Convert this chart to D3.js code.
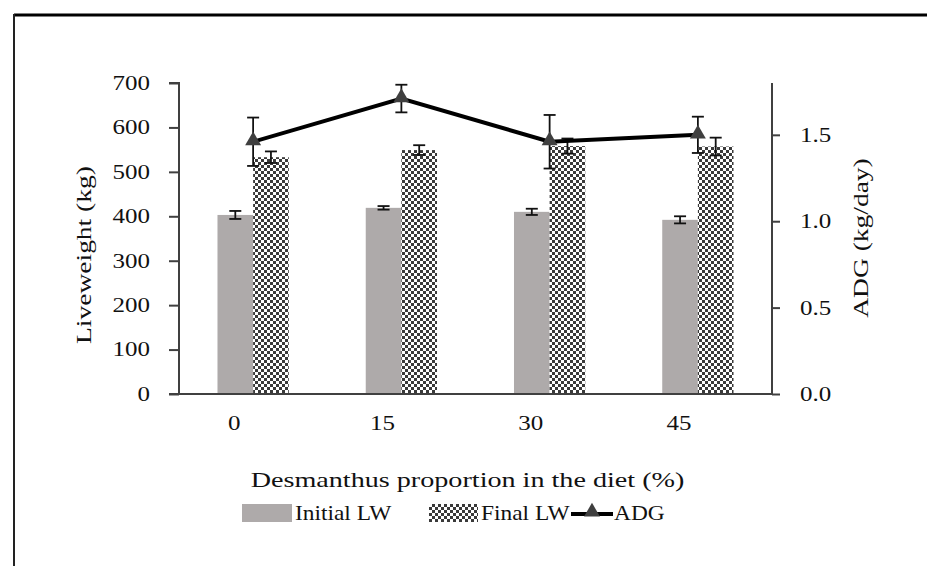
<!DOCTYPE html>
<html>
<head>
<meta charset="utf-8">
<script src="https://cdn.jsdelivr.net/npm/d3@7"></script>
<style>
  body { margin: 0; background: #fff; }
  svg text { font-family: "Liberation Serif", serif; fill: #111; }
</style>
</head>
<body>
<svg id="chart" width="927" height="566"></svg>
<script>
// data
const categories = ["0", "15", "30", "45"];
const initialLW = [403, 419, 410, 392];
const initialErr = [9, 4, 7, 8];
const finalLW = [533, 549, 558, 557];
const finalErr = [13, 11, 17, 20];
const adg = [1.46, 1.71, 1.46, 1.50];
const adgErr = [0.14, 0.08, 0.155, 0.105];
const leftTicks = [0, 100, 200, 300, 400, 500, 600, 700];
const rightTicks = [0, 0.5, 1.0, 1.5];

const svg = d3.select("#chart");
const margin = {left: 179, right: 155, top: 83, bottom: 172};
const W = 927, H = 566;
const plotRight = W - margin.right, plotBottom = H - margin.bottom;

//stretch text sideways (the picture uses a wide serif)
function stretch(sel, s){
    sel.each(function(){
        let t = d3.select(this);
        let x = +t.attr("x") || 0, y = +t.attr("y") || 0;
        let old = t.attr("transform") || "";
        t.attr("x", 0).attr("y", 0)
         .attr("transform", `${old} translate(${x},${y}) scale(${s},1)`);
    });
}

// frame
svg.append("line").attr("x1", 14).attr("x2", W).attr("y1", 15).attr("y2", 15)
    .attr("stroke", "#000").attr("stroke-width", 3);
svg.append("line").attr("x1", 14).attr("x2", 14).attr("y1", 14).attr("y2", H)
    .attr("stroke", "#222").attr("stroke-width", 2);

const x0 = d3.scaleBand().domain(categories).range([margin.left, plotRight]);
const x1 = d3.scaleBand().domain(["init", "final"]).range([0, x0.bandwidth()])
    .paddingInner(0).paddingOuter(1.08);
const yL = d3.scaleLinear().domain([0, 700]).range([plotBottom, margin.top]);
const yR = d3.scaleLinear().domain([0, 1.8]).range([plotBottom, margin.top]);

// checker pattern
const defs = svg.append("defs");
const pat = defs.append("pattern").attr("id", "check")
    .attr("width", 6).attr("height", 6).attr("patternUnits", "userSpaceOnUse");
pat.append("rect").attr("width", 6).attr("height", 6).attr("fill", "#fff");
pat.append("rect").attr("width", 3).attr("height", 3).attr("fill", "#3a3a3a");
pat.append("rect").attr("x", 3).attr("y", 3).attr("width", 3).attr("height", 3).attr("fill", "#3a3a3a");

// bars
const bars = svg.append("g");
categories.forEach((c, i) => {
    bars.append("rect")
        .attr("x", x0(c) + x1("init")).attr("width", x1.bandwidth())
        .attr("y", yL(initialLW[i])).attr("height", plotBottom - yL(initialLW[i]))
        .attr("fill", "#aeaaaa");
    bars.append("rect")
        .attr("x", x0(c) + x1("final")).attr("width", x1.bandwidth())
        .attr("y", yL(finalLW[i])).attr("height", plotBottom - yL(finalLW[i]))
        .attr("fill", "url(#check)");
});

function errBar(g, cx, yTop, yBot, cap){
    g.append("line").attr("x1", cx).attr("x2", cx).attr("y1", yTop).attr("y2", yBot);
    g.append("line").attr("x1", cx - cap).attr("x2", cx + cap).attr("y1", yTop).attr("y2", yTop);
    g.append("line").attr("x1", cx - cap).attr("x2", cx + cap).attr("y1", yBot).attr("y2", yBot);
}

const errs = svg.append("g").attr("stroke", "#111").attr("stroke-width", 1.8);
categories.forEach((c, i) => {
    let cxI = x0(c) + x1("init") + x1.bandwidth() / 2;
    let cxF = x0(c) + x1("final") + x1.bandwidth() / 2;
    errBar(errs, cxI, yL(initialLW[i] + initialErr[i]), yL(initialLW[i] - initialErr[i]), 6);
    errBar(errs, cxF, yL(finalLW[i] + finalErr[i]), yL(finalLW[i] - finalErr[i]), 6);
});

// axes
const axisColor = "#404040";
const gL = svg.append("g").attr("transform", `translate(${margin.left},0)`)
    .call(d3.axisLeft(yL).tickValues(leftTicks).tickSize(10).tickPadding(19).tickFormat(d3.format("d")));
const gR = svg.append("g").attr("transform", `translate(${plotRight},0)`)
    .call(d3.axisRight(yR).tickValues(rightTicks).tickSize(8).tickPadding(20).tickFormat(d3.format(".1f")));
const gB = svg.append("g").attr("transform", `translate(0,${plotBottom})`)
    .call(d3.axisBottom(x0).tickSize(0).tickPadding(22));
gB.selectAll("text").attr("x", -19);
[gL, gR, gB].forEach(g => {
    g.selectAll("path, line").attr("stroke", axisColor).attr("stroke-width", 2);
    g.selectAll("text").attr("font-size", 20).attr("font-family", "Liberation Serif").attr("fill", "#111");
    stretch(g.selectAll("text"), 1.25);
});
gL.select(".domain").attr("d", `M0,${plotBottom}V${margin.top}H-10`);
gR.select(".domain").attr("d", `M0,${margin.top}V${plotBottom}`);
gB.select(".domain").attr("d", `M${margin.left - 10},0H${plotRight}`);

// ADG line, error bars and markers
const xm = c => x0(c) + x0.bandwidth() / 2;
const adgErrG = svg.append("g").attr("stroke", "#111").attr("stroke-width", 1.8);
categories.forEach((c, i) => {
    errBar(adgErrG, xm(c), yR(adg[i] + adgErr[i]), yR(adg[i] - adgErr[i]), 6);
});
svg.append("path")
    .datum(categories.map((c, i) => [xm(c), yR(adg[i])]))
    .attr("d", d3.line())
    .attr("fill", "none").attr("stroke", "#000").attr("stroke-width", 4);
const tri = d3.symbol().type(d3.symbolTriangle).size(110);
categories.forEach((c, i) => {
    svg.append("path").attr("d", tri)
        .attr("transform", `translate(${xm(c)},${yR(adg[i]) - 1})`)
        .attr("fill", "#3f3f3f");
});

// axis titles
svg.append("text").attr("x", 467.5).attr("y", 487).attr("text-anchor", "middle")
    .attr("font-size", 22).text("Desmanthus proportion in the diet (%)").call(stretch, 1.28);
svg.append("text").attr("transform", "translate(91,255) rotate(-90)").attr("text-anchor", "middle")
    .attr("font-size", 22).text("Liveweight (kg)").call(stretch, 1.25);
svg.append("text").attr("transform", "translate(868,238) rotate(-90)").attr("text-anchor", "middle")
    .attr("font-size", 22).text("ADG (kg/day)").call(stretch, 1.25);

// legend
const leg = svg.append("g");
leg.append("rect").attr("x", 242).attr("y", 504).attr("width", 50).attr("height", 18).attr("fill", "#aeaaaa");
leg.append("text").attr("x", 295).attr("y", 520).attr("font-size", 20).text("Initial LW").call(stretch, 1.17);
leg.append("rect").attr("x", 429).attr("y", 504).attr("width", 49).attr("height", 18).attr("fill", "url(#check)");
leg.append("text").attr("x", 481).attr("y", 520).attr("font-size", 20).text("Final LW").call(stretch, 1.17);
leg.append("line").attr("x1", 571).attr("x2", 613).attr("y1", 514).attr("y2", 514)
    .attr("stroke", "#000").attr("stroke-width", 4);
leg.append("path").attr("d", tri).attr("transform", "translate(592,512)").attr("fill", "#3f3f3f");
leg.append("text").attr("x", 614).attr("y", 520).attr("font-size", 20).text("ADG").call(stretch, 1.17);
</script>
</body>
</html>
